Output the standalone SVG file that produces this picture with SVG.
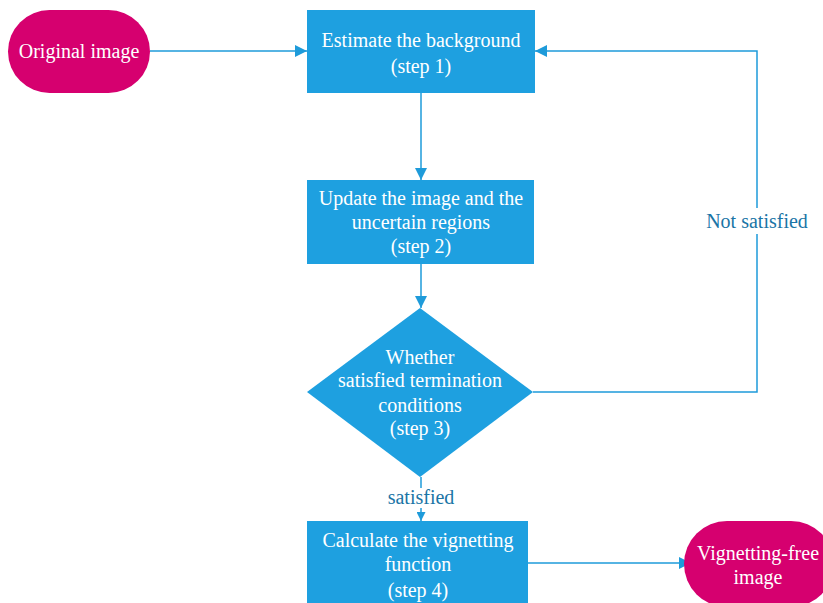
<svg xmlns="http://www.w3.org/2000/svg" width="823" height="603" viewBox="0 0 823 603">
<style>
.box{fill:#1EA0E0;}
.term{fill:#D6006F;}
.t{font-family:"Liberation Serif","Times New Roman",serif;font-size:20px;fill:#FFFFFF;text-anchor:middle;}
.lbl{font-family:"Liberation Serif","Times New Roman",serif;font-size:20px;fill:#1A75A6;text-anchor:middle;}
.c{stroke:#1E9BDA;stroke-width:1.5;fill:none;}
</style>
<defs>
<marker id="ah" viewBox="0 0 10 10" refX="10" refY="5" markerWidth="8" markerHeight="8" markerUnits="strokeWidth" orient="auto">
<path d="M0,0 L10,5 L0,10 Z" fill="#1E9BDA"/>
</marker>
<marker id="ahs" viewBox="0 0 10 10" refX="10" refY="5" markerWidth="6" markerHeight="6" markerUnits="strokeWidth" orient="auto">
<path d="M0,0 L10,5 L0,10 Z" fill="#1E9BDA"/>
</marker>
</defs>
<rect width="823" height="603" fill="#FFFFFF"/>
<g id="connectors">
<path class="c" d="M150,51 L307,51" marker-end="url(#ah)"/>
<path class="c" d="M421,93 L421,180" marker-end="url(#ah)"/>
<path class="c" d="M421,264 L421,308" marker-end="url(#ah)"/>
<path class="c" d="M533,392 L757,392 L757,51 L535,51" marker-end="url(#ah)"/>
<path class="c" d="M421,477 L421,488"/>
<path class="c" d="M421,508 L421,521" marker-end="url(#ahs)"/>
<path class="c" d="M528,563 L691,563" marker-end="url(#ah)"/>
<rect x="705" y="208" width="104" height="26" fill="#FFFFFF"/>
<text class="lbl" x="757" y="228">Not satisfied</text>
<text class="lbl" x="421" y="504">satisfied</text>
</g>
<g id="original">
<rect class="term" x="8" y="10" width="142" height="83" rx="41.5"/>
<text class="t" x="79" y="58">Original image</text>
</g>
<g id="step1">
<rect class="box" x="307" y="10" width="228" height="83"/>
<text class="t" x="421" y="47">Estimate the background</text>
<text class="t" x="421" y="73">(step 1)</text>
</g>
<g id="step2">
<rect class="box" x="307" y="180" width="227" height="84"/>
<text class="t" x="421" y="205">Update the image and the</text>
<text class="t" x="421" y="229">uncertain regions</text>
<text class="t" x="421" y="253">(step 2)</text>
</g>
<g id="step3">
<polygon class="box" points="420,308 533,392 420,477 307,392"/>
<text class="t" x="420" y="364">Whether</text>
<text class="t" x="420" y="387">satisfied termination</text>
<text class="t" x="420" y="412">conditions</text>
<text class="t" x="420" y="435">(step 3)</text>
</g>
<g id="step4">
<rect class="box" x="307" y="521" width="221" height="95"/>
<text class="t" x="418" y="547">Calculate the vignetting</text>
<text class="t" x="418" y="571">function</text>
<text class="t" x="418" y="597">(step 4)</text>
</g>
<g id="output">
<rect class="term" x="684" y="521" width="150" height="86" rx="43"/>
<text class="t" x="758" y="560">Vignetting-free</text>
<text class="t" x="758" y="584">image</text>
</g>
</svg>
